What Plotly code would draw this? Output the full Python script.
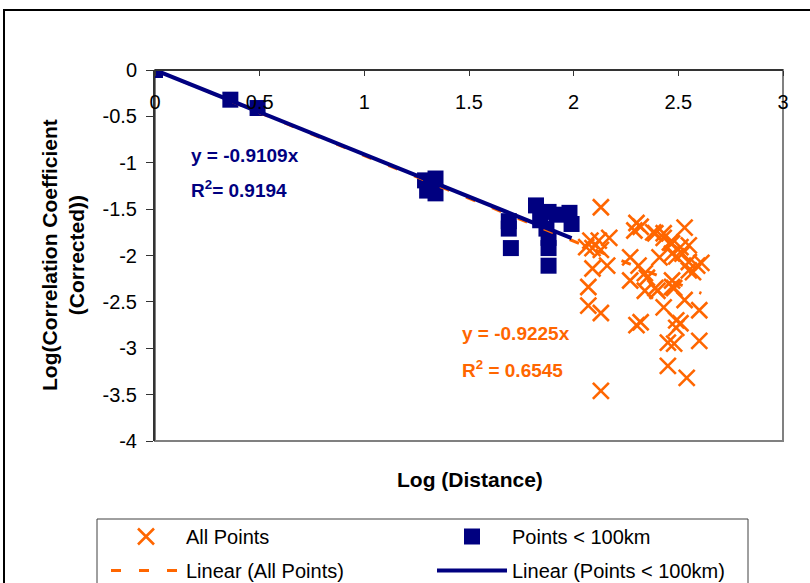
import plotly.graph_objects as go

# ---- data ----
near_x = [0.0, 0.36, 0.49, 1.29, 1.34, 1.30, 1.34, 1.69, 1.69, 1.70, 1.82, 1.84, 1.87, 1.88, 1.88, 1.88, 1.88, 1.92, 1.98, 1.99]
near_y = [0.0, -0.32, -0.41, -1.19, -1.17, -1.30, -1.33, -1.63, -1.71, -1.92, -1.46, -1.62, -1.71, -1.53, -1.81, -1.92, -2.11, -1.56, -1.54, -1.66]

far_x = [2.13, 2.08, 2.12, 2.17, 2.06, 2.09, 2.13, 2.16, 2.09, 2.07, 2.07, 2.13, 2.13,
         2.27, 2.30, 2.32, 2.29, 2.31, 2.27, 2.35, 2.34, 2.40, 2.39, 2.43, 2.38, 2.43,
         2.46, 2.53, 2.55, 2.47, 2.51, 2.47, 2.49, 2.52, 2.41, 2.55, 2.59, 2.61, 2.55,
         2.57, 2.47, 2.47, 2.48, 2.43, 2.53, 2.60, 2.49, 2.49, 2.51, 2.30, 2.32, 2.45,
         2.48, 2.60, 2.45, 2.54, 2.34, 2.39]
far_y = [-1.48, -1.84, -1.84, -1.81, -1.91, -1.92, -1.94, -2.11, -2.14, -2.34, -2.54, -2.62, -3.46,
         -2.02, -1.65, -1.69, -1.73, -2.11, -2.27, -2.24, -2.38, -2.38, -1.76, -1.76, -1.75, -1.81,
         -1.86, -1.70, -1.89, -1.87, -1.91, -1.98, -2.01, -1.98, -2.02, -2.07, -2.11, -2.08, -2.16,
         -2.18, -2.27, -2.34, -2.35, -2.56, -2.48, -2.59, -2.70, -2.78, -2.73, -2.75, -2.72, -2.94,
         -2.95, -2.92, -3.19, -3.32, -2.19, -2.35]

slope_all = -0.9225
r2_all = 0.6545
slope_near = -0.9109
r2_near = 0.9194

x_ticks = [0, 0.5, 1, 1.5, 2, 2.5, 3]
y_ticks = [0, -0.5, -1, -1.5, -2, -2.5, -3, -3.5, -4]

ORANGE = "#FF6600"
NAVY = "#000080"
FONT = "Arial, Liberation Sans, sans-serif"
FS = 20

all_x = near_x + far_x
xmax_all = max(all_x)
xmax_near = max(near_x)

fig = go.Figure()
fig.add_trace(go.Scatter(
    x=far_x, y=far_y, mode="markers", name="All Points", legend="legend", legendgroup="a",
    marker=dict(symbol="x-thin-open", size=16, line=dict(color=ORANGE, width=2.6), color=ORANGE),
))
fig.add_trace(go.Scatter(
    x=near_x, y=near_y, mode="markers", name="Points < 100km", legend="legend2", legendgroup="b",
    marker=dict(symbol="square", size=16, color=NAVY, line=dict(width=0)),
))
fig.add_trace(go.Scatter(
    x=[0, xmax_all], y=[0, slope_all * xmax_all], mode="lines", name="Linear (All Points)",
    legend="legend", legendgroup="c", line=dict(color=ORANGE, width=3, dash="10px,18px"),
))
fig.add_trace(go.Scatter(
    x=[0, xmax_near], y=[0, slope_near * xmax_near], mode="lines", name="Linear (Points < 100km)",
    legend="legend2", legendgroup="d", line=dict(color=NAVY, width=4),
))

L, R, T, B = 155, 27, 70, 142
W, H = 810, 583
pw, ph = W - L - R, H - T - B


def px(xp):
    return (xp - L) / pw


def py(yp):
    return (H - B - yp) / ph


leg_common = dict(xanchor="left", yanchor="top", orientation="v", itemwidth=70,
                  tracegroupgap=5, bgcolor="rgba(0,0,0,0)",
                  font=dict(family=FONT, size=FS, color="black"))

fig.update_layout(
    width=W, height=H,
    margin=dict(l=L, r=R, t=T, b=B, pad=0, autoexpand=False),
    paper_bgcolor="white", plot_bgcolor="white",
    font=dict(family=FONT, size=FS, color="black"),
    showlegend=True,
    legend=dict(x=px(106), y=py(517), **leg_common),
    legend2=dict(x=px(432), y=py(517), **leg_common),
    xaxis=dict(range=[0, 3], side="bottom", anchor="free", position=1,
               tickvals=x_ticks, ticktext=[f"{v:g}" for v in x_ticks],
               ticks="outside", ticklen=5, tickcolor="#333", ticklabelstandoff=9,
               showline=True, linecolor="#333", linewidth=2, showgrid=False, zeroline=False,
               tickfont=dict(size=FS, family=FONT, color="black")),
    yaxis=dict(range=[-4, 0], tickvals=y_ticks, ticktext=[f"{v:g}" for v in y_ticks],
               ticks="outside", ticklen=7, tickcolor="#333", showline=True, linecolor="#333",
               linewidth=2, showgrid=False, zeroline=False, ticklabelstandoff=5,
               tickfont=dict(size=FS, family=FONT, color="black")),
)

shapes = [
    # plot area border
    dict(type="rect", xref="paper", yref="paper", x0=0, x1=1, y0=0, y1=1,
         line=dict(color="#808080", width=2), layer="below"),
    # outer frame
    dict(type="rect", xref="paper", yref="paper", x0=px(4), x1=px(815), y0=py(600), y1=py(10),
         line=dict(color="black", width=2)),
    # legend box
    dict(type="rect", xref="paper", yref="paper", x0=px(97), x1=px(748), y0=py(600), y1=py(519),
         line=dict(color="#404040", width=1)),
]
fig.update_layout(shapes=shapes)

ann = [
    dict(text=f"<b>y = {slope_near:.4f}x</b>", x=px(189), y=py(155), xanchor="left", yanchor="middle",
         font=dict(color=NAVY, size=19)),
    dict(text=f"<b>R<sup>2</sup>= {r2_near:.4f}</b>", x=px(189), y=py(189), xanchor="left", yanchor="middle",
         font=dict(color=NAVY, size=19)),
    dict(text=f"<b>y = {slope_all:.4f}x</b>", x=px(460), y=py(333), xanchor="left", yanchor="middle",
         font=dict(color=ORANGE, size=19)),
    dict(text=f"<b>R<sup>2</sup> = {r2_all:.4f}</b>", x=px(460), y=py(369), xanchor="left", yanchor="middle",
         font=dict(color=ORANGE, size=19)),
    dict(text="<b>Log (Distance)</b>", x=px(470), y=py(479), xanchor="center", yanchor="middle",
         font=dict(size=21)),
    dict(text="<b>Log(Correlation Coefficient<br>(Corrected))</b>", x=px(63), y=py(255),
         xanchor="center", yanchor="middle", textangle=-90, font=dict(size=21)),
]
for a in ann:
    a.update(xref="paper", yref="paper", showarrow=False)
fig.update_layout(annotations=ann)

fig.write_html("out.html")
